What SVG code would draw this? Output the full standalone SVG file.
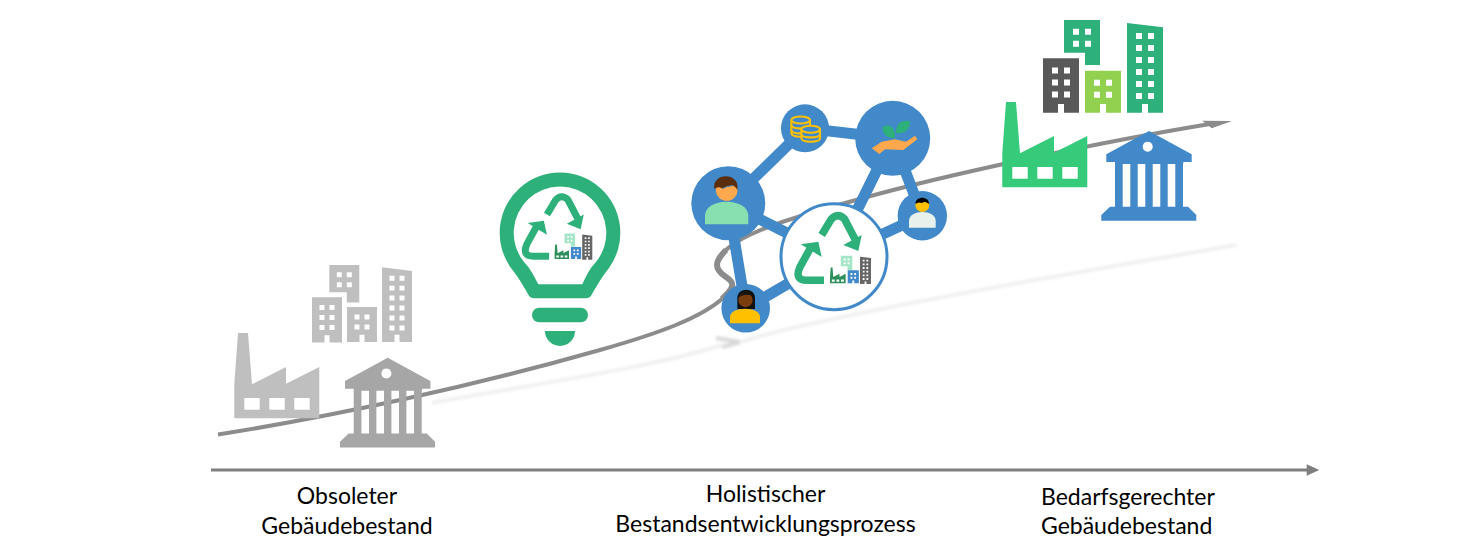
<svg xmlns="http://www.w3.org/2000/svg" width="1467" height="556" viewBox="0 0 1467 556">
<style>
text{font-family:Lato,"Liberation Sans",sans-serif;font-size:23px;fill:#000}
.edge{stroke:#4189c9;stroke-width:11;fill:none}
.hub{fill:#4189c9}
.curve{fill:none;stroke:#8c8c8c;stroke-width:4}
.coin{fill:#4189c9;stroke:#ffc000;stroke-width:2.1}
.rec{fill:none;stroke:#2db079;stroke-width:7.6;stroke-linejoin:round}
.recH{fill:#2db079}
</style>
<defs>
<filter id="blur" x="-5%" y="-30%" width="110%" height="160%"><feGaussianBlur stdDeviation="1.5"/></filter>
<path id="bTop" fill-rule="evenodd" d="M0 0H36V45H21V32.7H0ZM9 8.7h6v6h-6zM21 8.7h6v6h-6zM9 20.7h6v6h-6zM21 20.7h6v6h-6z"/>
<path id="bDark" fill-rule="evenodd" d="M0 0H36V54.4H21V45.7H15V54.4H0ZM9 9.3h6v6h-6zM21 9.3h6v6h-6zM9 21.3h6v6h-6zM21 21.3h6v6h-6zM9 33.3h6v6h-6zM21 33.3h6v6h-6z"/>
<path id="bLow" fill-rule="evenodd" d="M0 0H36V42H21V33.3H15V42H0ZM9 9h6v6h-6zM21 9h6v6h-6zM9 21h6v6h-6zM21 21h6v6h-6z"/>
<path id="bTall" fill-rule="evenodd" d="M0 0L36 4.3V89.7H21V81H15V89.7H0ZM9 10h6v6h-6zM21 10h6v6h-6zM9 22h6v6h-6zM21 22h6v6h-6zM9 34h6v6h-6zM21 34h6v6h-6zM9 46h6v6h-6zM21 46h6v6h-6zM9 58h6v6h-6zM21 58h6v6h-6zM9 70h6v6h-6zM21 70h6v6h-6z"/>
<path id="factory" fill-rule="evenodd" d="M0 85.3V51L3.7 0H13.7L17.7 51.3L51.7 34V50.7L85 34V85.3ZM10 65v11.700h15.400v-11.700zM35 65v11.700h15.400v-11.700zM60 65v11.700h15.400v-11.700z"/>
<path id="bank" fill-rule="evenodd" d="M47.700 0L90.400 23.300V31H82V33H81.700V75.700H86.700L95 84V89.700H0V84L8.700 75.700H13.700V33H13.700V31H5V23.300ZM21.400 33V75.700H29V33ZM36.400 33V75.700H44V33ZM51.400 33V75.700H59V33ZM66.400 33V75.700H74V33ZM46.400 10.700a5 5 0 1 0 .01 0z"/>
<g id="eco">
<path class="rec" d="M824 280.300H807Q794 280.300 800 267L811 247"/>
<path class="recH" d="M800.700 244.300L818.300 241.700L821.700 257Z"/>
<path class="rec" d="M821.700 235L831 219.500Q837.500 212 844.500 219L856 241"/>
<path class="recH" d="M843.300 245L861.700 235L858.300 251Z"/>
<use href="#factory" transform="translate(830,267.600) scale(.184)" fill="#2e8f5c"/>
<use href="#bTop" transform="translate(840.800,255.700) scale(.32)" fill="#a5e6c8"/>
<use href="#bLow" transform="translate(847.700,270.300) scale(.31)" fill="#4189c9"/>
<use href="#bTall" transform="translate(860,256.700) scale(.305)" fill="#666"/>
</g>
</defs>

<g id="connectors">
<path d="M432 403C540 383 650 368 722 345" fill="none" stroke="#ececec" stroke-width="3" filter="url(#blur)"/>
<path d="M716 338L740 342L722 347" fill="none" stroke="#d8d8d8" stroke-width="4" filter="url(#blur)"/>
<path d="M741 342C800 322 1000 285 1237 245" fill="none" stroke="#ececec" stroke-width="3" filter="url(#blur)"/>
<path class="curve" d="M218 434.500C330 417 470 387 600 350C660 333 700 318 722 299C735 287 735 283 726 277C714 269 714 262 726 250C745 232 790 218 867 197C950 174 1100 142 1210 124"/>
<path d="M722 299C735 287 735 283 726 277C714 269 714 262 726 250" fill="none" stroke="#8c8c8c" stroke-width="6"/>
<path d="M1232 121L1202 120.700L1206 123.600L1211.700 128.300Z" fill="#8c8c8c"/>
<path d="M211 470H1308" stroke="#7f7f7f" stroke-width="3" fill="none"/>
<path d="M1306.700 464.300L1319.300 470L1306.700 475.700Z" fill="#7f7f7f"/>
</g>

<g id="old-stock">
<use href="#bTop" transform="translate(329.300,265) scale(.833)" fill="#bfbfbf"/>
<use href="#bDark" transform="translate(312,297.300) scale(.833)" fill="#bfbfbf"/>
<use href="#bLow" transform="translate(347,307) scale(.833)" fill="#bfbfbf"/>
<use href="#bTall" transform="translate(382,267.300) scale(.833)" fill="#bfbfbf"/>
<use href="#factory" x="234.300" y="333" fill="#bfbfbf"/>
<use href="#bank" x="340" y="357.700" fill="#a6a6a6"/>
</g>

<g id="lightbulb">
<path fill="#2db079" fill-rule="evenodd" d="M511 268A60.300 60.300 0 1 1 609 268C602 277 597 285 592 294Q590 298.300 586 298.300H534Q530 298.300 528 294C523 285 518 277 511 268ZM524 262C530 268 534 276 538.300 284.300H582.300C586 276 590 268 596 262A46.300 46.300 0 1 0 524 262Z"/>
<rect x="532" y="307.700" width="56" height="14.600" rx="7.300" fill="#2db079"/>
<path d="M545 331H575A15 15 0 0 1 545 331Z" fill="#2db079"/>
<use href="#eco" transform="translate(-209,-1.700) scale(.92)"/>
</g>

<g id="network">
<path class="edge" d="M728.300 203.300L805 128.300L892.700 138.300L834 256.700L728.300 203.300M892.700 138.300L922.300 215.700L834 256.700L745.700 308.300L728.300 203.300"/>
</g>
<g id="person-a">
<circle class="hub" cx="728.300" cy="203.300" r="37"/>
<circle cx="726.700" cy="190" r="10.800" fill="#ffa84d"/>
<path d="M714.300 189C711.500 172 741 172 737.300 190Q736 186.500 733 185.500Q727 186 722.500 188.500Q718 186 714.300 189Z" fill="#5a2d0c"/>
<path d="M722.500 188.500Q727 186 733 185.500" fill="none" stroke="#4189c9" stroke-width="1"/>
<path d="M705 224.300V216C705 197 748.300 197 748.300 216V224.300Z" fill="#88e0b0"/>
</g>
<g id="coins">
<circle class="hub" cx="805" cy="128.300" r="24"/>
<path class="coin" d="M791.400 120V133C791.400 138 810 138 810 133V120"/>
<path class="coin" fill="none" d="M791.400 125C791.400 129.500 810 129.500 810 125M791.400 130C791.400 134.500 810 134.500 810 130"/>
<ellipse class="coin" cx="800.700" cy="120" rx="9.300" ry="3.500"/>
<path class="coin" d="M801.400 129.300V138C801.400 143 820 143 820 138V129.300"/>
<path class="coin" d="M801.400 134C801.400 138.500 820 138.500 820 134"/>
<ellipse class="coin" cx="810.700" cy="129.300" rx="9.300" ry="3.500"/>
</g>
<g id="hand">
<circle class="hub" cx="892.700" cy="138.300" r="37.500"/>
<path d="M871.700 148.300L881.700 141.700L895 139.300L906 141.700L915 135.700L917.300 139.300L903.300 150L885 149.300L879.300 154Z" fill="#ffa84d"/>
<path d="M882.700 126.700C890 123 896 128 895 138.300C887 138 882 134 882.700 126.700ZM910 121C910 130 905 134 896 133.300C896 124 901 120 910 121Z" fill="#2db079"/>
</g>
<g id="person-b">
<circle class="hub" cx="922.300" cy="215.700" r="24.700"/>
<circle cx="922.300" cy="205" r="7" fill="#ffc000"/>
<path d="M915.500 204C915 195.500 929.500 195.500 929 204Q925 200.500 922 203Q918 201.500 915.500 204Z" fill="#000"/>
<path d="M909 227.700V221C909 209 935.700 209 935.700 221V227.700Z" fill="#e8f1ec"/>
</g>
<g id="person-c">
<circle class="hub" cx="745.700" cy="308.300" r="24.300"/>
<path d="M737.300 309V298C737.300 287 755 287 755 298V309Z" fill="#111"/>
<path d="M730 323.300V317C730 306 760 306 760 317V323.300Z" fill="#ffc000"/>
<circle cx="745.500" cy="300" r="7.200" fill="#7a3e0e"/>
<path d="M739 297Q745 289 753 296Q746 293 739 297Z" fill="#111"/>
</g>
<g id="process">
<circle cx="834" cy="256.700" r="53" fill="#fff" stroke="#4189c9" stroke-width="3"/>
<use href="#eco"/>
</g>

<g id="new-stock">
<use href="#bTop" x="1064" y="20" fill="#2db079"/>
<use href="#bDark" x="1043" y="58.300" fill="#595959"/>
<use href="#bLow" x="1085" y="70.700" fill="#92d050"/>
<use href="#bTall" x="1127" y="23" fill="#2db079"/>
<use href="#factory" x="1002.300" y="102" fill="#35cb7b"/>
<use href="#bank" x="1101.300" y="131" fill="#4189c9"/>
</g>

<g id="labels">
<text x="347" y="504" text-anchor="middle">Obsoleter</text>
<text x="347" y="534" text-anchor="middle">Gebäudebestand</text>
<text x="765.500" y="502" text-anchor="middle">Holistischer</text>
<text x="765.500" y="532" text-anchor="middle">Bestandsentwicklungsprozess</text>
<text x="1041" y="505">Bedarfsgerechter</text>
<text x="1041" y="534">Gebäudebestand</text>
</g>
</svg>
